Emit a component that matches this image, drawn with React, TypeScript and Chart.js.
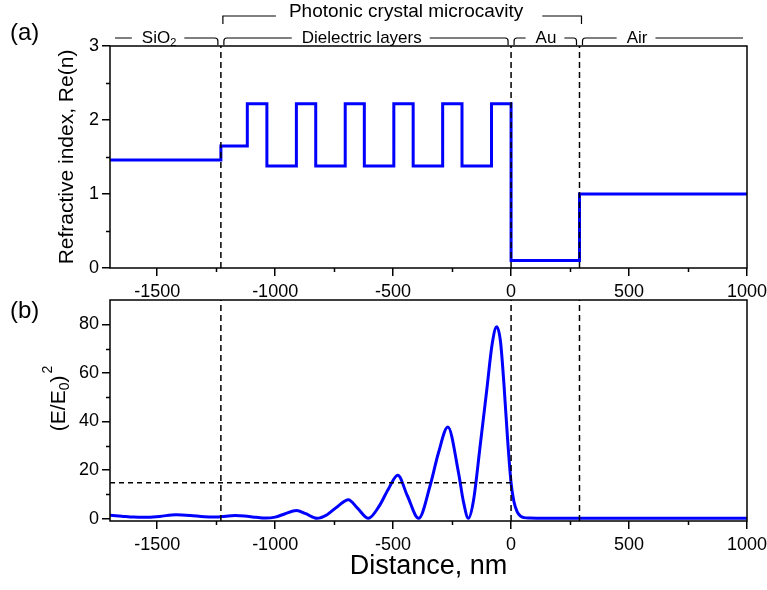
import React, { useEffect, useRef } from "react";
import { Chart, registerables } from "chart.js";
Chart.register(...registerables);

// ---------- data ----------
// panel (a): layer boundaries (nm) and real part of refractive index of each layer
const layerEdges = [-1700, -1230, -1118, -1035, -910, -828, -703, -622, -497, -415, -290, -208, -83, 0, 290, 1000];
const layerIndex = [1.46, 1.65, 2.22, 1.38, 2.22, 1.38, 2.22, 1.38, 2.22, 1.38, 2.22, 1.38, 2.22, 0.1, 1.0];

// panel (b): field intensity (E/E0)^2
const fieldX = [
  -1700, -1650, -1600, -1550, -1490, -1420, -1360, -1300, -1250, -1210, -1170, -1130, -1080, -1040, -1000,
  -960, -910, -870, -823, -780, -735, -690, -650, -605, -560, -521, -480, -440, -392, -343, -308, -268,
  -223, -202, -181, -160, -131, -103, -80, -61, -45, -30, -15, 0, 12, 25, 40, 55, 80, 150, 1000,
];
const fieldY = [
  1.4, 1.0, 0.6, 0.5, 0.9, 1.6, 1.3, 0.7, 0.6, 1.0, 1.3, 1.1, 0.5, 0.2, 0.6,
  1.9, 3.3, 2.0, 0.1, 1.6, 5.0, 7.8, 4.2, 0.1, 5.0, 12.0, 17.8, 9.5, 0.1, 13.6, 27, 37.7,
  19, 7, 0.1, 7, 30, 53, 72, 79, 73, 55, 33, 14.7, 7, 3, 1.0, 0.4, 0.2, 0.1, 0.1,
];

const interfaces = [-1230, 0, 290];
const fieldLevel = 14.7;

const xRange = [-1700, 1000];
const nRange = [0, 3];
const eRange = [-1, 90];
const xMajorTicks = [-1500, -1000, -500, 0, 500, 1000];
const xMinorTicks = [-1250, -750, -250, 250, 750];
const nMajorTicks = [0, 1, 2, 3];
const nMinorTicks = [0.5, 1.5, 2.5];
const eMajorTicks = [0, 20, 40, 60, 80];
const eMinorTicks = [10, 30, 50, 70];

// region labels
const regionLabels = ["SiO", "Dielectric layers", "Au", "Air"];
const regionFrom = [-1700, -1230, 0, 290];
const regionTo = [-1230, 0, 290, 1000];
const regionCenter = [-1492, -633, 148, 534];
const cavityLabel = "Photonic crystal microcavity";
const cavityFrom = -1230;
const cavityTo = 290;
const cavityCenter = -445;

// ---------- styling ----------
const FONT = "'Liberation Sans', Arial, Helvetica, sans-serif";
const BLUE = "#0000ff";

function frameMinor(xMinor: number[], yMinor: number[]) {
  return {
    id: "frameMinor",
    afterDraw(chart: any) {
      const { ctx, chartArea: a, scales } = chart;
      ctx.save();
      ctx.strokeStyle = "#000";
      ctx.lineWidth = 1.5;
      ctx.strokeRect(a.left, a.top, a.right - a.left, a.bottom - a.top);
      ctx.beginPath();
      xMinor.forEach((v) => {
        const px = Math.round(scales.x.getPixelForValue(v)) + 0.5;
        ctx.moveTo(px, a.bottom);
        ctx.lineTo(px, a.bottom + 4);
      });
      yMinor.forEach((v) => {
        const py = Math.round(scales.y.getPixelForValue(v)) + 0.5;
        ctx.moveTo(a.left, py);
        ctx.lineTo(a.left - 4, py);
      });
      ctx.stroke();
      ctx.restore();
    },
  };
}

function panelLetter(text: string, y: number) {
  return {
    id: "panelLetter",
    afterDraw(chart: any) {
      const ctx = chart.ctx;
      ctx.save();
      ctx.fillStyle = "#000";
      ctx.font = `24px ${FONT}`;
      ctx.textAlign = "left";
      ctx.textBaseline = "middle";
      ctx.fillText(text, 10, y);
      ctx.restore();
    },
  };
}

function drawBracket(ctx: any, x0: number, x1: number, y: number, drop: number, capStart: boolean, capEnd: boolean, tL: number, tR: number, r: number) {
  ctx.beginPath();
  if (capStart) {
    ctx.moveTo(x0, y + drop);
    ctx.lineTo(x0, y + r);
    if (r > 0) ctx.quadraticCurveTo(x0, y, x0 + r, y);
  } else ctx.moveTo(x0, y);
  ctx.lineTo(tL, y);
  ctx.moveTo(tR, y);
  if (capEnd) {
    ctx.lineTo(x1 - r, y);
    if (r > 0) ctx.quadraticCurveTo(x1, y, x1, y + r);
    ctx.lineTo(x1, y + drop);
  } else ctx.lineTo(x1, y);
  ctx.stroke();
}

const annotations = {
  id: "regions",
  afterDraw(chart: any) {
    const { ctx, chartArea: a, scales } = chart;
    const x = scales.x;
    ctx.save();
    ctx.fillStyle = "#000";
    ctx.strokeStyle = "#000";
    ctx.lineWidth = 1.2;
    ctx.textBaseline = "middle";
    ctx.textAlign = "left";
    // row 1: cavity bracket
    ctx.font = `19px ${FONT}`;
    const cw = ctx.measureText(cavityLabel).width;
    const cc = x.getPixelForValue(cavityCenter);
    ctx.fillText(cavityLabel, cc - cw / 2, 12);
    drawBracket(ctx, x.getPixelForValue(cavityFrom) + 2, x.getPixelForValue(cavityTo) + 2, 16, 8, true, true, cc - cw / 2 - 13, cc + cw / 2 + 19, 0);
    // row 2: region brackets
    const yLine = 38;
    regionLabels.forEach((lab, i) => {
      const c = x.getPixelForValue(regionCenter[i]);
      ctx.font = `17px ${FONT}`;
      const w = ctx.measureText(lab).width;
      let sw = 0;
      if (i === 0) {
        ctx.font = `11px ${FONT}`;
        sw = ctx.measureText("2").width;
      }
      const tw = w + sw;
      const left = c - tw / 2;
      ctx.font = `17px ${FONT}`;
      ctx.fillText(lab, left, yLine);
      if (i === 0) {
        ctx.font = `11px ${FONT}`;
        ctx.fillText("2", left + w, yLine + 5);
      }
      const from = regionFrom[i];
      const to = regionTo[i];
      const capStart = from !== xRange[0];
      const capEnd = to !== xRange[1];
      const x0 = capStart ? x.getPixelForValue(from) + 3 : a.left + 5;
      const x1 = capEnd ? x.getPixelForValue(to) - 3 : a.right - 4;
      drawBracket(ctx, x0, x1, yLine, 7, capStart, capEnd, left - 10, left + tw + 8, 3);
    });
    ctx.restore();
  },
};

const fieldTitle = {
  id: "fieldTitle",
  afterDraw(chart: any) {
    const { ctx, chartArea: a } = chart;
    ctx.save();
    ctx.fillStyle = "#000";
    const cx = a.left - 53;
    const cy = (a.top + a.bottom) / 2 - 12;
    ctx.translate(cx, cy);
    ctx.rotate(-Math.PI / 2);
    ctx.textBaseline = "alphabetic";
    ctx.textAlign = "left";
    const big = `21px ${FONT}`;
    const small = `14px ${FONT}`;
    ctx.font = big;
    const w1 = ctx.measureText("(E/E").width;
    const w3 = ctx.measureText(")").width;
    ctx.font = small;
    const w2 = ctx.measureText("0").width;
    const w4 = ctx.measureText("2").width;
    const total = w1 + w2 + w3 + 2 + w4;
    let u = -total / 2;
    ctx.font = big;
    ctx.fillText("(E/E", u, 7.5);
    u += w1;
    ctx.font = small;
    ctx.fillText("0", u, 12);
    u += w2;
    ctx.font = big;
    ctx.fillText(")", u, 7.5);
    u += w3 + 2;
    ctx.font = small;
    ctx.fillText("2", u, -5);
    ctx.restore();
  },
};

const tickFont = { family: FONT, size: 18 };

function xScale(height: number, title: any) {
  return {
    type: "linear",
    min: xRange[0],
    max: xRange[1],
    afterBuildTicks: (s: any) => {
      s.ticks = xMajorTicks.map((v) => ({ value: v }));
    },
    afterFit: (s: any) => {
      s.height = height;
      s.paddingLeft = 0;
      s.paddingRight = 0;
    },
    ticks: { font: tickFont, color: "#000", padding: 5, maxRotation: 0, autoSkip: false, callback: (v: any) => `${v}` },
    grid: { drawOnChartArea: false, drawTicks: true, tickLength: 8, color: "#000", lineWidth: 1.5 },
    border: { display: false },
    title,
  };
}

function yScale(range: number[], ticks: number[], title: any) {
  return {
    type: "linear",
    min: range[0],
    max: range[1],
    afterBuildTicks: (s: any) => {
      s.ticks = ticks.map((v) => ({ value: v }));
    },
    afterFit: (s: any) => {
      s.width = 110;
      s.paddingTop = 0;
      s.paddingBottom = 0;
    },
    ticks: { font: tickFont, color: "#000", padding: 3, autoSkip: false, callback: (v: any) => `${v}` },
    grid: { drawOnChartArea: false, drawTicks: true, tickLength: 8, color: "#000", lineWidth: 1.5 },
    border: { display: false },
    title,
  };
}

function dashedInterfaces(yLo: number, yHi: number) {
  return interfaces.map((v) => ({
    data: [
      { x: v, y: yLo },
      { x: v, y: yHi },
    ],
    borderColor: "#000",
    borderWidth: 1.5,
    borderDash: [6, 4],
    pointRadius: 0,
  }));
}

function indexPoints() {
  const pts: { x: number; y: number }[] = [];
  layerIndex.forEach((n, i) => {
    pts.push({ x: layerEdges[i], y: n });
    pts.push({ x: layerEdges[i + 1], y: n });
  });
  return pts;
}

export default function App() {
  const topRef = useRef<HTMLCanvasElement>(null);
  const botRef = useRef<HTMLCanvasElement>(null);

  useEffect(() => {
    const common = {
      responsive: false,
      animation: false,
      plugins: { legend: { display: false }, tooltip: { enabled: false } },
    };
    const c1 = new Chart(topRef.current as HTMLCanvasElement, {
      type: "line",
      data: {
        datasets: [
          ...dashedInterfaces(nRange[0], nRange[1]),
          { data: indexPoints(), borderColor: BLUE, borderWidth: 3, pointRadius: 0, tension: 0 },
        ],
      } as any,
      options: {
        ...common,
        layout: { padding: { top: 46, right: 20, left: 0, bottom: 0 } },
        scales: {
          x: xScale(32, { display: false }),
          y: yScale(nRange, nMajorTicks, {
            display: true,
            text: "Refractive index, Re(n)",
            color: "#000",
            font: { family: FONT, size: 21 },
            padding: { top: 55, bottom: 0 },
          }),
        },
      } as any,
      plugins: [frameMinor(xMinorTicks, nMinorTicks), annotations, panelLetter("(a)", 33)],
    });
    const c2 = new Chart(botRef.current as HTMLCanvasElement, {
      type: "line",
      data: {
        datasets: [
          ...dashedInterfaces(eRange[0], eRange[1]),
          {
            data: [
              { x: xRange[0], y: fieldLevel },
              { x: 0, y: fieldLevel },
            ],
            borderColor: "#000",
            borderWidth: 1.5,
            borderDash: [5, 4],
            pointRadius: 0,
          },
          {
            data: fieldX.map((x, i) => ({ x, y: fieldY[i] })),
            borderColor: BLUE,
            borderWidth: 3,
            pointRadius: 0,
            cubicInterpolationMode: "monotone",
          },
        ],
      } as any,
      options: {
        ...common,
        layout: { padding: { top: 10, right: 20, left: 0, bottom: 0 } },
        scales: {
          x: xScale(69, {
            display: true,
            text: "Distance, nm",
            color: "#000",
            font: { family: FONT, size: 27 },
            padding: { top: 0, bottom: 7 },
          }),
          y: yScale(eRange, eMajorTicks, { display: false }),
        },
      } as any,
      plugins: [frameMinor(xMinorTicks, eMinorTicks), fieldTitle, panelLetter("(b)", 21.5)],
    });
    return () => {
      c1.destroy();
      c2.destroy();
    };
  }, []);

  return (
    <div style={{ position: "fixed", left: 0, top: 0, width: 767, height: 590, background: "#fff" }}>
      <canvas ref={topRef} width={767} height={300} style={{ position: "absolute", left: 0, top: 0 }} />
      <canvas ref={botRef} width={767} height={300} style={{ position: "absolute", left: 0, top: 290 }} />
    </div>
  );
}
